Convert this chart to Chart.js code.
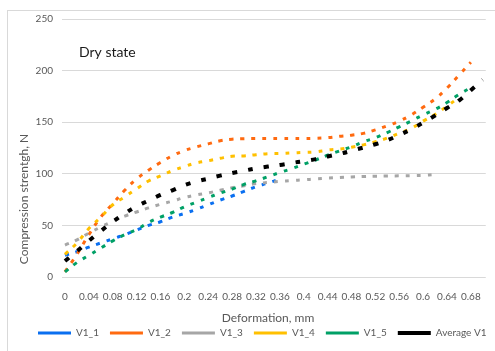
<!DOCTYPE html>
<html>
<head>
<meta charset="utf-8">
<script src="https://cdn.jsdelivr.net/npm/chart.js@4/dist/chart.umd.min.js"></script>
<style>
  html, body { margin: 0; padding: 0; background: #fff; }
  body { width: 495px; height: 351px; position: relative; overflow: hidden; font-family: Lato, sans-serif; }
  #frame { position: absolute; left: 7px; top: 10px; width: 600px; height: 500px; border: 1.5px solid #d9d9d9; box-sizing: border-box; }
  #wrap { position: absolute; left: 0; top: 0; width: 495px; height: 351px; }
</style>
</head>
<body>
<div id="frame"></div>
<div id="wrap"><canvas id="chart" width="495" height="351"></canvas></div>
<script>
// Deformation (mm) at which compression strength was sampled
const deformation = [0, 0.02, 0.04, 0.06, 0.08, 0.10, 0.12, 0.14, 0.16, 0.18, 0.20, 0.22, 0.24, 0.26,
  0.28, 0.30, 0.32, 0.34, 0.36, 0.38, 0.40, 0.42, 0.44, 0.46, 0.48, 0.50, 0.52, 0.54, 0.56, 0.58,
  0.60, 0.62, 0.64, 0.66, 0.68, 0.70];

// Compression strength, N (null = specimen not measured further)
const v1_1 = [21, 24.5, 29, 33, 37, 41, 45.5, 50, 53.5, 58, 61.5, 65.5, 70, 74.5, 78.5, 83, 87.5, 91, 95,
  null, null, null, null, null, null, null, null, null, null, null, null, null, null, null, null, null];
const v1_2 = [5, 22, 41, 58, 71, 84, 95, 103.5, 111, 117.5, 122.5, 126, 129, 132, 133.5, 134, 134.2, 134.2,
  134.2, 134.2, 134.2, 134.4, 135, 136.3, 137.4, 139.2, 142.5, 146.5, 151, 157, 164.5, 172.5, 183, 195.5, 208, null];
const v1_3 = [31, 36, 42.5, 48.5, 54, 59, 63, 67, 70.5, 73.5, 77, 79.5, 81.5, 84, 86.5, 88.5, 90.5, 91.6,
  92.6, 93.5, 94.2, 95, 95.8, 96.4, 97, 97.4, 97.7, 97.9, 98, 98.2, 98.5, 99.2, null, null, null, null];
const v1_4 = [22, 33, 47, 58, 70, 77.6, 85.5, 93, 98, 103, 107, 110.5, 112.6, 115, 117, 117.3, 118.5, 119.5,
  119.7, 120.2, 120.7, 121.3, 123, 124, 125.7, 128, 131, 134.7, 139.2, 144, 151, 157.5, 165.5, 174, null, null];
const v1_5 = [5, 14, 21, 28, 35, 41, 46, 52.8, 58, 62.5, 68, 72.5, 77, 81.3, 85.2, 89.7, 93.2, 97.2,
  101.3, 105, 109.3, 113.4, 118, 122.2, 126.2, 131, 135, 140, 145.5, 151.2, 157, 162.4, 169, 176.8, 183.5, null];
const averageV1 = [15.5, 25, 35, 44.5, 53.5, 61.5, 68.5, 74, 79.5, 84, 89, 92.5, 95.3, 98.2, 100.8, 103,
  105.2, 107, 108.6, 110.5, 112.3, 114.2, 116.8, 119.3, 122.3, 125.5, 128.6, 132.6, 137.6, 143.2, 149.6,
  156.4, 163.7, 171, 181, 191];

const seriesNames = ['V1_1', 'V1_2', 'V1_3', 'V1_4', 'V1_5', 'Average V1'];
const xTickValues = [0, 0.04, 0.08, 0.12, 0.16, 0.2, 0.24, 0.28, 0.32, 0.36, 0.4, 0.44, 0.48, 0.52, 0.56, 0.6, 0.64, 0.68];
const yTickValues = [0, 50, 100, 150, 200, 250];

const seriesValues = [v1_1, v1_2, v1_3, v1_4, v1_5, averageV1];
const seriesColors = ['#0a6ff0', '#ff6a10', '#a6a6a6', '#ffc000', '#00a066', '#000000'];

const toPoints = vals => deformation.map((x, i) => ({ x: x, y: vals[i] }));

const datasets = seriesValues.map((vals, i) => {
  const isAvg = i === seriesValues.length - 1;
  return {
    label: seriesNames[i],
    data: toPoints(vals),
    borderColor: seriesColors[i],
    backgroundColor: seriesColors[i],
    borderWidth: isAvg ? 4 : 3,
    borderDash: isAvg ? [5, 11] : [4, 7],
    borderCapStyle: 'butt',
    pointRadius: 0,
    pointHoverRadius: 0,
    tension: 0.4,
    fill: false,
    order: seriesValues.length - i
  };
});

const textColor = '#595959';

// Start the legend row at a fixed x instead of centring it
const legendShift = {
  id: 'legendShift',
  afterLayout(chart) {
    const lg = chart.legend;
    if (lg) {
      const pad = lg.options.labels.padding;
      const dx = 38 - pad - lg.left;
      lg.left += dx;
      lg.right += dx;
    }
  }
};

// Axis titles and the panel caption
const annotations = {
  id: 'annotations',
  afterDraw(chart) {
    const ctx = chart.ctx;
    ctx.save();
    ctx.fillStyle = textColor;
    ctx.font = '12px Lato';
    ctx.textAlign = 'center';
    ctx.textBaseline = 'middle';
    ctx.fillText('Deformation, mm', 268, 318);
    ctx.save();
    ctx.translate(24, 199);
    ctx.rotate(-Math.PI / 2);
    ctx.fillText('Compression strentgh, N', 0, 0);
    ctx.restore();
    ctx.fillStyle = '#1a1a1a';
    ctx.font = '14px Lato';
    ctx.textAlign = 'left';
    ctx.fillText('Dry state', 79, 52);
    ctx.restore();
  }
};

new Chart(document.getElementById('chart'), {
  type: 'line',
  data: { datasets: datasets },
  options: {
    responsive: false,
    animation: false,
    events: [],
    layout: { padding: { left: 0, right: 8, top: 19, bottom: 3 } },
    scales: {
      x: {
        type: 'linear',
        min: -0.005,
        max: 0.705,
        afterBuildTicks: s => { s.ticks = xTickValues.map(v => ({ value: v })); },
        afterFit: s => { s.height = 40; },
        grid: { display: false, drawTicks: false },
        border: { display: false },
        ticks: {
          padding: 14,
          color: textColor,
          font: { family: 'Lato', size: 10 },
          maxRotation: 0,
          autoSkip: false,
          callback: v => String(Math.round(v * 100) / 100)
        }
      },
      y: {
        min: 0,
        max: 250,
        afterBuildTicks: s => { s.ticks = yTickValues.map(v => ({ value: v })); },
        afterFit: s => { s.width = 62; },
        grid: { color: '#d9d9d9', lineWidth: 1, drawTicks: false },
        border: { display: false },
        ticks: {
          padding: 9,
          color: textColor,
          font: { family: 'Lato', size: 10 }
        }
      }
    },
    plugins: {
      legend: {
        position: 'bottom',
        align: 'start',
        labels: {
          usePointStyle: true,
          pointStyle: 'line',
          pointStyleWidth: 33,
          padding: 11,
          color: textColor,
          font: { family: 'Lato', size: 10 },
          sort: (a, b) => a.datasetIndex - b.datasetIndex
        }
      },
      tooltip: { enabled: false }
    }
  },
  plugins: [legendShift, annotations]
});
</script>
</body>
</html>
